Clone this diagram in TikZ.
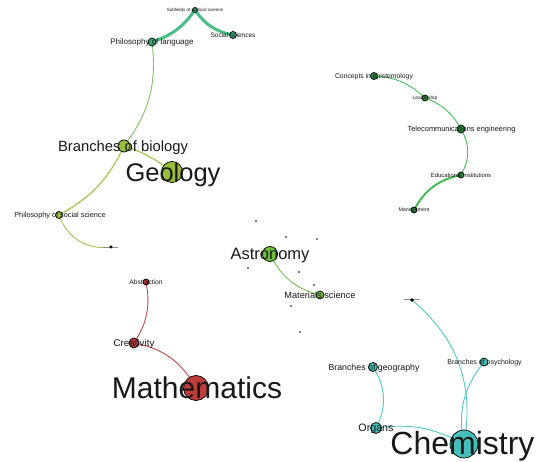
\documentclass[tikz,border=0pt]{standalone}
\usepackage{fontspec}
\setmainfont{Liberation Sans}
\pgfdeclarelayer{bg}
\pgfdeclarelayer{paper}
\pgfsetlayers{paper,bg,main}
\definecolor{polE}{RGB}{72,190,130}
\definecolor{polN}{RGB}{55,170,115}
\definecolor{bioE}{RGB}{160,200,80}
\definecolor{bioN}{RGB}{150,190,60}
\definecolor{lbE}{RGB}{125,195,95}
\definecolor{astE}{RGB}{110,195,70}
\definecolor{astN}{RGB}{110,190,55}
\definecolor{epiE}{RGB}{70,190,85}
\definecolor{epiN}{RGB}{45,140,65}
\definecolor{mathE}{RGB}{200,70,70}
\definecolor{mathN}{RGB}{190,60,60}
\definecolor{chemE}{RGB}{80,200,200}
\definecolor{chemN}{RGB}{70,190,185}
\definecolor{txt}{RGB}{25,25,25}
\tikzset{
  vtx/.style={circle, draw=black, line width=0.7pt, inner sep=0pt, minimum size=#1},
  lbl/.style={inner sep=0pt, anchor=base, text=txt},
  edg/.style={line width=0.9pt},
  dotp/.style={circle, fill=black, inner sep=0pt, minimum size=1.7pt},
}
\newcommand\glab[5]{\node[lbl,font=\fontsize{#4}{#4}\selectfont] (#1) at (#2,{#3+0.36*#4}) {#5};}
\begin{document}
\begin{tikzpicture}[x=1pt,y=-1pt]
\begin{pgfonlayer}{paper}
\fill[white] (0,0) rectangle (547,462);
\end{pgfonlayer}
\useasboundingbox (0,0) rectangle (547,462);
% vertices
\node[vtx=5pt, fill=polN] (sub) at (195,10) {};
\node[vtx=7pt, fill=polN] (soc) at (233,35) {};
\node[vtx=8pt, fill=polN] (plang) at (152,42) {};
\node[vtx=12pt, fill=bioN] (bbio) at (124,146) {};
\node[vtx=21pt, fill=bioN] (geo) at (172,172) {};
\node[vtx=7pt, fill=bioN] (psoc) at (59,215) {};
\node[vtx=2.5pt, fill=black] (tA) at (111,247) {};
\node[vtx=15pt, fill=astN] (ast) at (270,254) {};
\node[vtx=8pt, fill=astN] (mat) at (320,295) {};
\node[vtx=6pt, fill=mathN] (abs) at (146,282) {};
\node[vtx=10pt, fill=mathN] (cre) at (134,343) {};
\node[vtx=25pt, fill=mathN] (math) at (196,388) {};
\node[vtx=7pt, fill=epiN] (cep) at (374,76) {};
\node[vtx=6pt, fill=epiN] (lead) at (425,98) {};
\node[vtx=8pt, fill=epiN] (tele) at (461,129) {};
\node[vtx=6pt, fill=epiN] (edu) at (461,175) {};
\node[vtx=6pt, fill=epiN] (mgmt) at (414,210) {};
\node[vtx=3pt, fill=black] (tB) at (412,300) {};
\node[vtx=9pt, fill=chemN] (bgeo) at (373,367) {};
\node[vtx=8pt, fill=chemN] (bpsy) at (484,362) {};
\node[vtx=11pt, fill=chemN] (org) at (376,428) {};
\node[vtx=28pt, fill=chemN] (chem) at (464,444) {};
% edges
\begin{pgfonlayer}{bg}
\draw[polE, line width=3pt] (sub.center) to[bend left=18] (plang.center);
\draw[polE, line width=3pt] (sub.center) to[bend right=22] (soc.center);
\draw[lbE, edg] (plang.center) to[bend left=22] (bbio.center);
\draw[bioE, line width=1.2pt] (bbio.center) to[bend left=18] (psoc.center);
\draw[bioE, line width=1.2pt] (bbio.center) to[bend left=10] (geo.center);
\draw[bioE, edg] (psoc.center) to[bend right=40] (tA.center);
\draw[astE, edg] (ast.center) to[bend right=25] (mat.center);
\draw[mathE, edg] (abs.center) to[bend left=22] (cre.center);
\draw[mathE, edg] (cre.center) to[bend left=25] (math.center);
\draw[epiE, edg] (cep.center) to[bend left=20] (lead.center);
\draw[epiE, edg] (lead.center) to[bend left=20] (tele.center);
\draw[epiE, edg] (tele.center) to[bend left=30] (edu.center);
\draw[epiE, line width=2pt] (edu.center) to[bend right=25] (mgmt.center);
\draw[chemE, edg] (tB.center) to[bend left=30] (chem.center);
\draw[chemE, edg] (bpsy.center) to[bend right=25] (chem.center);
\draw[chemE, edg] (bgeo.center) to[bend left=30] (org.center);
\draw[chemE, edg] (org.center) to[bend left=18] (chem.center);
% tiny unreadable labels
\draw[black!45, line width=0.9pt] (103,247) -- (118,247);
\draw[black!45, line width=1pt] (404,300) -- (420,300);
\end{pgfonlayer}
% scattered dots
\foreach \p/\q in {256/221, 286/237, 317/239, 248/268, 299/272, 314/285, 291/306, 300/332}
  \node[dotp] at (\p,\q) {};
% labels
\glab{Lsub}{195}{10}{4.5}{Subfields of political science}
\glab{Lsoc}{233}{35}{6.5}{Social sciences}
\glab{Lplang}{152}{42}{8}{Philosophy of language}
\glab{Lbbio}{123}{146}{14.8}{Branches of biology}
\glab{Lgeo}{173}{172}{25.5}{Geology}
\glab{Lpsoc}{60}{215}{7.3}{Philosophy of social science}
\glab{Last}{270}{254}{16.5}{Astronomy}
\glab{Lmat}{320}{295}{9.2}{Materials science}
\glab{Labs}{146}{282}{6.6}{Abstraction}
\glab{Lcre}{134}{343}{9.8}{Creativity}
\glab{Lmath}{197}{388}{30}{Mathematics}
\glab{Lcep}{374}{76}{6.8}{Concepts in epistemology}
\glab{Llead}{425}{98}{5}{Leadership}
\glab{Ltele}{461.5}{129}{7.4}{Telecommunications engineering}
\glab{Ledu}{461}{175}{5.9}{Educational institutions}
\glab{Lmgmt}{414}{210}{5.3}{Management}
\glab{Lbgeo}{374}{367}{8.8}{Branches of geography}
\glab{Lbpsy}{484.5}{362}{7}{Branches of psychology}
\glab{Lorg}{376}{428}{10.7}{Organs}
\glab{Lchem}{462.5}{443}{32}{Chemistry}
\end{tikzpicture}
\end{document}
